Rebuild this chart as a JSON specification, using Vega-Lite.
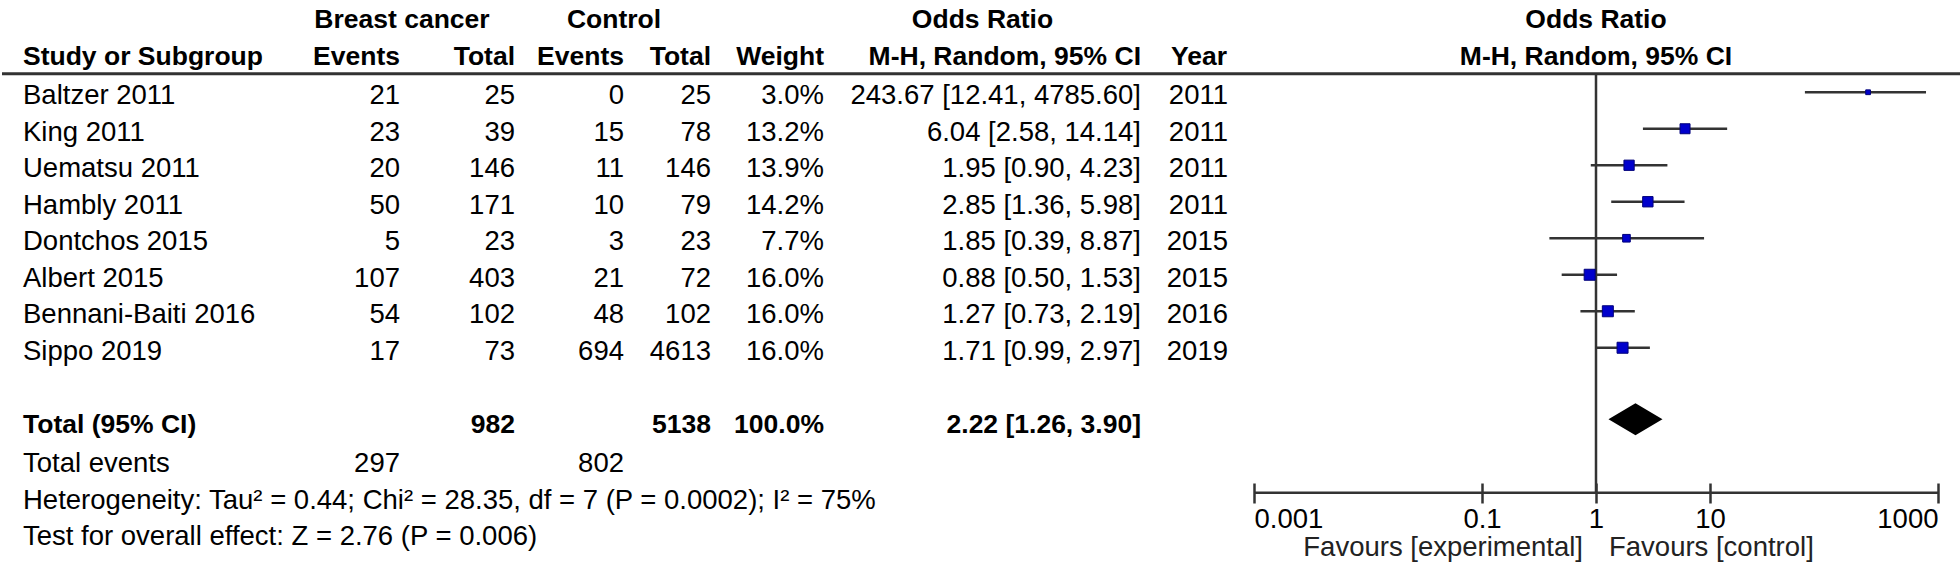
{
  "$schema": "https://vega.github.io/schema/vega-lite/v6.json",
  "padding": {"left": 0, "top": 5, "right": 0, "bottom": 0},
  "spacing": 0,
  "bounds": "flush",
  "background": "white",
  "config": {
    "view": {"stroke": null},
    "text": {"font": "Liberation Sans", "fontSize": 27.5, "color": "#000"},
    "concat": {"spacing": 0}
  },
  "datasets": {
    "studies": [
      {"row": "Baltzer 2011", "e1": 21, "n1": 25, "e2": 0, "n2": 25, "weight": 0.030, "ci": "243.67 [12.41, 4785.60]", "year": "2011", "or": 243.67, "lo": 68, "hi": 785},
      {"row": "King 2011", "e1": 23, "n1": 39, "e2": 15, "n2": 78, "weight": 0.132, "ci": "6.04 [2.58, 14.14]", "year": "2011", "or": 6.04, "lo": 2.58, "hi": 14.14},
      {"row": "Uematsu 2011", "e1": 20, "n1": 146, "e2": 11, "n2": 146, "weight": 0.139, "ci": "1.95 [0.90, 4.23]", "year": "2011", "or": 1.95, "lo": 0.90, "hi": 4.23},
      {"row": "Hambly 2011", "e1": 50, "n1": 171, "e2": 10, "n2": 79, "weight": 0.142, "ci": "2.85 [1.36, 5.98]", "year": "2011", "or": 2.85, "lo": 1.36, "hi": 5.98},
      {"row": "Dontchos 2015", "e1": 5, "n1": 23, "e2": 3, "n2": 23, "weight": 0.077, "ci": "1.85 [0.39, 8.87]", "year": "2015", "or": 1.85, "lo": 0.39, "hi": 8.87},
      {"row": "Albert 2015", "e1": 107, "n1": 403, "e2": 21, "n2": 72, "weight": 0.160, "ci": "0.88 [0.50, 1.53]", "year": "2015", "or": 0.88, "lo": 0.50, "hi": 1.53},
      {"row": "Bennani-Baiti 2016", "e1": 54, "n1": 102, "e2": 48, "n2": 102, "weight": 0.160, "ci": "1.27 [0.73, 2.19]", "year": "2016", "or": 1.27, "lo": 0.73, "hi": 2.19},
      {"row": "Sippo 2019", "e1": 17, "n1": 73, "e2": 694, "n2": 4613, "weight": 0.160, "ci": "1.71 [0.99, 2.97]", "year": "2019", "or": 1.71, "lo": 0.99, "hi": 2.97}
    ],
    "total": [
      {"row": "Total (95% CI)", "n1": 982, "n2": 5138, "weight": 1.0, "ci": "2.22 [1.26, 3.90]", "or": 2.22, "lo": 1.26, "hi": 3.90}
    ],
    "footer": [
      {"row": "Total events", "label": "Total events", "e1": 297, "e2": 802},
      {"row": "Heterogeneity", "label": "Heterogeneity: Tau² = 0.44; Chi² = 28.35, df = 7 (P = 0.0002); I² = 75%"},
      {"row": "Test for overall effect", "label": "Test for overall effect: Z = 2.76 (P = 0.006)"}
    ],
    "headers": [
      {"col": "study", "row": "h2", "label": "Study or Subgroup"},
      {"col": "e1", "row": "h1", "label": "Breast cancer"},
      {"col": "e1", "row": "h2", "label": "Events"},
      {"col": "n1", "row": "h2", "label": "Total"},
      {"col": "e2", "row": "h1", "label": "Control"},
      {"col": "e2", "row": "h2", "label": "Events"},
      {"col": "n2", "row": "h2", "label": "Total"},
      {"col": "w", "row": "h2", "label": "Weight"},
      {"col": "ci", "row": "h1", "label": "Odds Ratio"},
      {"col": "ci", "row": "h2", "label": "M-H, Random, 95% CI"},
      {"col": "year", "row": "h2", "label": "Year"},
      {"col": "forest", "row": "h1", "label": "Odds Ratio"},
      {"col": "forest", "row": "h2", "label": "M-H, Random, 95% CI"}
    ],
    "sep": [{"row": "h2"}],
    "vline": [{"row": "h2", "row2": "Heterogeneity", "x": 1}],
    "axisline": [{"row": "Heterogeneity", "from": 0.001, "to": 1000}],
    "favours": [
      {"row": "Test for overall effect", "side": "left", "label": "Favours [experimental]", "x": 1},
      {"row": "Test for overall effect", "side": "right", "label": "Favours [control]", "x": 1}
    ]
  },
  "hconcat": [
    {
      "width": 340, "height": {"step": 36.5},
      "encoding": {"y": {"field": "row", "type": "nominal", "axis": null, "scale": {"type": "point", "domain": ["h1","h2","Baltzer 2011","King 2011","Uematsu 2011","Hambly 2011","Dontchos 2015","Albert 2015","Bennani-Baiti 2016","Sippo 2019","gap","Total (95% CI)","Total events","Heterogeneity","Test for overall effect"]}}},
      "layer": [
        {"data": {"name": "headers"}, "transform": [{"filter": "datum.col == 'study'"}], "mark": {"type": "text", "align": "left", "dx": 21, "yOffset": -3, "fontWeight": "bold", "fontSize": 26.5}, "encoding": {"x": {"value": 0}, "text": {"field": "label"}}},
        {"data": {"name": "studies"}, "mark": {"type": "text", "align": "left", "dx": 21}, "encoding": {"x": {"value": 0}, "text": {"field": "row"}}},
        {"data": {"name": "total"}, "mark": {"type": "text", "align": "left", "dx": 21, "fontWeight": "bold", "fontSize": 26.5}, "encoding": {"x": {"value": 0}, "text": {"field": "row"}}},
        {"data": {"name": "footer"}, "mark": {"type": "text", "align": "left", "dx": 21, "yOffset": 3}, "encoding": {"x": {"value": 0}, "text": {"field": "label"}}},
        {"data": {"name": "sep"}, "mark": {"type": "rule", "yOffset": 14, "strokeWidth": 3, "color": "#333"}, "encoding": {}}
      ]
    },
    {
      "width": 58, "height": {"step": 36.5},
      "encoding": {"y": {"field": "row", "type": "nominal", "axis": null, "scale": {"type": "point", "domain": ["h1","h2","Baltzer 2011","King 2011","Uematsu 2011","Hambly 2011","Dontchos 2015","Albert 2015","Bennani-Baiti 2016","Sippo 2019","gap","Total (95% CI)","Total events","Heterogeneity","Test for overall effect"]}}},
      "layer": [
        {"data": {"name": "headers"}, "transform": [{"filter": "datum.col == 'e1' && datum.row == 'h2'"}], "mark": {"type": "text", "align": "right", "yOffset": -3, "fontWeight": "bold", "fontSize": 26.5}, "encoding": {"x": {"value": "width"}, "text": {"field": "label"}}},
        {"data": {"name": "headers"}, "transform": [{"filter": "datum.col == 'e1' && datum.row == 'h1'"}], "mark": {"type": "text", "align": "center", "dx": 2, "yOffset": -3, "fontWeight": "bold", "fontSize": 26.5}, "encoding": {"x": {"value": "width"}, "text": {"field": "label"}}},
        {"data": {"name": "studies"}, "mark": {"type": "text", "align": "right"}, "encoding": {"x": {"value": "width"}, "text": {"field": "e1", "type": "nominal"}}},
        {"data": {"name": "footer"}, "transform": [{"filter": "isValid(datum.e1)"}], "mark": {"type": "text", "align": "right", "yOffset": 3}, "encoding": {"x": {"value": "width"}, "text": {"field": "e1", "type": "nominal"}}},
        {"data": {"name": "sep"}, "mark": {"type": "rule", "yOffset": 14, "strokeWidth": 3, "color": "#333"}, "encoding": {}}
      ]
    },
    {
      "width": 115, "height": {"step": 36.5},
      "encoding": {"y": {"field": "row", "type": "nominal", "axis": null, "scale": {"type": "point", "domain": ["h1","h2","Baltzer 2011","King 2011","Uematsu 2011","Hambly 2011","Dontchos 2015","Albert 2015","Bennani-Baiti 2016","Sippo 2019","gap","Total (95% CI)","Total events","Heterogeneity","Test for overall effect"]}}},
      "layer": [
        {"data": {"name": "headers"}, "transform": [{"filter": "datum.col == 'n1'"}], "mark": {"type": "text", "align": "right", "yOffset": -3, "fontWeight": "bold", "fontSize": 26.5}, "encoding": {"x": {"value": "width"}, "text": {"field": "label"}}},
        {"data": {"name": "studies"}, "mark": {"type": "text", "align": "right"}, "encoding": {"x": {"value": "width"}, "text": {"field": "n1", "type": "nominal"}}},
        {"data": {"name": "total"}, "mark": {"type": "text", "align": "right", "fontWeight": "bold", "fontSize": 26.5}, "encoding": {"x": {"value": "width"}, "text": {"field": "n1", "type": "nominal"}}},
        {"data": {"name": "sep"}, "mark": {"type": "rule", "yOffset": 14, "strokeWidth": 3, "color": "#333"}, "encoding": {}}
      ]
    },
    {
      "width": 109, "height": {"step": 36.5},
      "encoding": {"y": {"field": "row", "type": "nominal", "axis": null, "scale": {"type": "point", "domain": ["h1","h2","Baltzer 2011","King 2011","Uematsu 2011","Hambly 2011","Dontchos 2015","Albert 2015","Bennani-Baiti 2016","Sippo 2019","gap","Total (95% CI)","Total events","Heterogeneity","Test for overall effect"]}}},
      "layer": [
        {"data": {"name": "headers"}, "transform": [{"filter": "datum.col == 'e2' && datum.row == 'h2'"}], "mark": {"type": "text", "align": "right", "yOffset": -3, "fontWeight": "bold", "fontSize": 26.5}, "encoding": {"x": {"value": "width"}, "text": {"field": "label"}}},
        {"data": {"name": "headers"}, "transform": [{"filter": "datum.col == 'e2' && datum.row == 'h1'"}], "mark": {"type": "text", "align": "center", "dx": -10, "yOffset": -3, "fontWeight": "bold", "fontSize": 26.5}, "encoding": {"x": {"value": "width"}, "text": {"field": "label"}}},
        {"data": {"name": "studies"}, "mark": {"type": "text", "align": "right"}, "encoding": {"x": {"value": "width"}, "text": {"field": "e2", "type": "nominal"}}},
        {"data": {"name": "footer"}, "transform": [{"filter": "isValid(datum.e2)"}], "mark": {"type": "text", "align": "right", "yOffset": 3}, "encoding": {"x": {"value": "width"}, "text": {"field": "e2", "type": "nominal"}}},
        {"data": {"name": "sep"}, "mark": {"type": "rule", "yOffset": 14, "strokeWidth": 3, "color": "#333"}, "encoding": {}}
      ]
    },
    {
      "width": 87, "height": {"step": 36.5},
      "encoding": {"y": {"field": "row", "type": "nominal", "axis": null, "scale": {"type": "point", "domain": ["h1","h2","Baltzer 2011","King 2011","Uematsu 2011","Hambly 2011","Dontchos 2015","Albert 2015","Bennani-Baiti 2016","Sippo 2019","gap","Total (95% CI)","Total events","Heterogeneity","Test for overall effect"]}}},
      "layer": [
        {"data": {"name": "headers"}, "transform": [{"filter": "datum.col == 'n2'"}], "mark": {"type": "text", "align": "right", "yOffset": -3, "fontWeight": "bold", "fontSize": 26.5}, "encoding": {"x": {"value": "width"}, "text": {"field": "label"}}},
        {"data": {"name": "studies"}, "mark": {"type": "text", "align": "right"}, "encoding": {"x": {"value": "width"}, "text": {"field": "n2", "type": "nominal"}}},
        {"data": {"name": "total"}, "mark": {"type": "text", "align": "right", "fontWeight": "bold", "fontSize": 26.5}, "encoding": {"x": {"value": "width"}, "text": {"field": "n2", "type": "nominal"}}},
        {"data": {"name": "sep"}, "mark": {"type": "rule", "yOffset": 14, "strokeWidth": 3, "color": "#333"}, "encoding": {}}
      ]
    },
    {
      "width": 113, "height": {"step": 36.5},
      "encoding": {"y": {"field": "row", "type": "nominal", "axis": null, "scale": {"type": "point", "domain": ["h1","h2","Baltzer 2011","King 2011","Uematsu 2011","Hambly 2011","Dontchos 2015","Albert 2015","Bennani-Baiti 2016","Sippo 2019","gap","Total (95% CI)","Total events","Heterogeneity","Test for overall effect"]}}},
      "layer": [
        {"data": {"name": "headers"}, "transform": [{"filter": "datum.col == 'w'"}], "mark": {"type": "text", "align": "right", "yOffset": -3, "fontWeight": "bold", "fontSize": 26.5}, "encoding": {"x": {"value": "width"}, "text": {"field": "label"}}},
        {"data": {"name": "studies"}, "mark": {"type": "text", "align": "right"}, "encoding": {"x": {"value": "width"}, "text": {"field": "weight", "type": "quantitative", "format": ".1%"}}},
        {"data": {"name": "total"}, "mark": {"type": "text", "align": "right", "fontWeight": "bold", "fontSize": 26.5}, "encoding": {"x": {"value": "width"}, "text": {"field": "weight", "type": "quantitative", "format": ".1%"}}},
        {"data": {"name": "sep"}, "mark": {"type": "rule", "yOffset": 14, "strokeWidth": 3, "color": "#333"}, "encoding": {}}
      ]
    },
    {
      "width": 317, "height": {"step": 36.5},
      "encoding": {"y": {"field": "row", "type": "nominal", "axis": null, "scale": {"type": "point", "domain": ["h1","h2","Baltzer 2011","King 2011","Uematsu 2011","Hambly 2011","Dontchos 2015","Albert 2015","Bennani-Baiti 2016","Sippo 2019","gap","Total (95% CI)","Total events","Heterogeneity","Test for overall effect"]}}},
      "layer": [
        {"data": {"name": "headers"}, "transform": [{"filter": "datum.col == 'ci' && datum.row == 'h2'"}], "mark": {"type": "text", "align": "right", "yOffset": -3, "fontWeight": "bold", "fontSize": 26.5}, "encoding": {"x": {"value": "width"}, "text": {"field": "label"}}},
        {"data": {"name": "headers"}, "transform": [{"filter": "datum.col == 'ci' && datum.row == 'h1'"}], "mark": {"type": "text", "align": "center", "yOffset": -3, "fontWeight": "bold", "fontSize": 26.5}, "encoding": {"text": {"field": "label"}}},
        {"data": {"name": "studies"}, "mark": {"type": "text", "align": "right"}, "encoding": {"x": {"value": "width"}, "text": {"field": "ci"}}},
        {"data": {"name": "total"}, "mark": {"type": "text", "align": "right", "fontWeight": "bold", "fontSize": 26.5}, "encoding": {"x": {"value": "width"}, "text": {"field": "ci"}}},
        {"data": {"name": "sep"}, "mark": {"type": "rule", "yOffset": 14, "strokeWidth": 3, "color": "#333"}, "encoding": {}}
      ]
    },
    {
      "width": 113, "height": {"step": 36.5},
      "encoding": {"y": {"field": "row", "type": "nominal", "axis": null, "scale": {"type": "point", "domain": ["h1","h2","Baltzer 2011","King 2011","Uematsu 2011","Hambly 2011","Dontchos 2015","Albert 2015","Bennani-Baiti 2016","Sippo 2019","gap","Total (95% CI)","Total events","Heterogeneity","Test for overall effect"]}}},
      "layer": [
        {"data": {"name": "headers"}, "transform": [{"filter": "datum.col == 'year'"}], "mark": {"type": "text", "align": "right", "dx": -27, "yOffset": -3, "fontWeight": "bold", "fontSize": 26.5}, "encoding": {"x": {"value": "width"}, "text": {"field": "label"}}},
        {"data": {"name": "studies"}, "mark": {"type": "text", "align": "right", "dx": -26}, "encoding": {"x": {"value": "width"}, "text": {"field": "year"}}},
        {"data": {"name": "sep"}, "mark": {"type": "rule", "yOffset": 14, "strokeWidth": 3, "color": "#333"}, "encoding": {}}
      ]
    },
    {
      "width": 684, "height": {"step": 36.5},
      "encoding": {"y": {"field": "row", "type": "nominal", "axis": null, "scale": {"type": "point", "domain": ["h1","h2","Baltzer 2011","King 2011","Uematsu 2011","Hambly 2011","Dontchos 2015","Albert 2015","Bennani-Baiti 2016","Sippo 2019","gap","Total (95% CI)","Total events","Heterogeneity","Test for overall effect"]}}},
      "layer": [
        {"data": {"name": "sep"}, "mark": {"type": "rule", "yOffset": 14, "strokeWidth": 3, "color": "#333"}, "encoding": {}},
        {"data": {"name": "headers"}, "transform": [{"filter": "datum.col == 'forest'"}], "mark": {"type": "text", "align": "center", "yOffset": -3, "fontWeight": "bold", "fontSize": 26.5}, "encoding": {"text": {"field": "label"}}},
        {"data": {"name": "vline"}, "mark": {"type": "rule", "yOffset": 14, "y2Offset": -5, "strokeWidth": 2.5, "color": "#333"}, "encoding": {"x": {"field": "x", "type": "quantitative", "title": null, "scale": {"type": "log", "domain": [0.001, 1000], "nice": false}}, "y2": {"field": "row2"}}},
        {"data": {"name": "axisline"}, "mark": {"type": "rule", "yOffset": -5, "strokeWidth": 2.5, "color": "#333"}, "encoding": {"x": {"field": "from", "type": "quantitative", "title": null, "scale": {"type": "log", "domain": [0.001, 1000], "nice": false}}, "x2": {"field": "to"}}},
        {"data": {"name": "studies"}, "mark": {"type": "rule", "yOffset": -4, "strokeWidth": 2.5, "color": "#333"}, "encoding": {"x": {"field": "lo", "type": "quantitative", "title": null, "scale": {"type": "log", "domain": [0.001, 1000], "nice": false}, "axis": {"values": [0.001, 0.1, 1, 10, 1000], "labelExpr": "'' + datum.value", "domain": false, "grid": false, "tickSize": 20, "tickWidth": 2.5, "tickColor": "#333", "offset": -69.5, "labelPadding": 2, "labelFlush": true, "labelOverlap": false, "labelFont": "Liberation Sans", "labelFontSize": 27.5, "labelColor": "#000"}}, "x2": {"field": "hi"}}},
        {"data": {"name": "studies"}, "mark": {"type": "square", "filled": true, "opacity": 1, "color": "#0000CC", "stroke": "#00007A", "strokeWidth": 1, "yOffset": -4}, "encoding": {"x": {"field": "or", "type": "quantitative", "title": null, "scale": {"type": "log", "domain": [0.001, 1000], "nice": false}}, "size": {"field": "weight", "type": "quantitative", "legend": null, "scale": {"domain": [0, 0.16], "range": [0, 121]}}}},
        {"data": {"name": "total"}, "mark": {"type": "point", "shape": "M-1,0L0,-0.59L1,0L0,0.59Z", "filled": true, "opacity": 1, "color": "#000", "size": 2916, "yOffset": -5.5}, "encoding": {"x": {"field": "or", "type": "quantitative", "title": null, "scale": {"type": "log", "domain": [0.001, 1000], "nice": false}}}},
        {"data": {"name": "favours"}, "transform": [{"filter": "datum.side == 'left'"}], "mark": {"type": "text", "align": "right", "dx": -13, "yOffset": 14, "color": "#222"}, "encoding": {"x": {"field": "x", "type": "quantitative", "title": null, "scale": {"type": "log", "domain": [0.001, 1000], "nice": false}}, "text": {"field": "label"}}},
        {"data": {"name": "favours"}, "transform": [{"filter": "datum.side == 'right'"}], "mark": {"type": "text", "align": "left", "dx": 13, "yOffset": 14, "color": "#222"}, "encoding": {"x": {"field": "x", "type": "quantitative", "title": null, "scale": {"type": "log", "domain": [0.001, 1000], "nice": false}}, "text": {"field": "label"}}}
      ]
    },
    {
      "width": 24, "height": {"step": 36.5},
      "encoding": {"y": {"field": "row", "type": "nominal", "axis": null, "scale": {"type": "point", "domain": ["h1","h2","Baltzer 2011","King 2011","Uematsu 2011","Hambly 2011","Dontchos 2015","Albert 2015","Bennani-Baiti 2016","Sippo 2019","gap","Total (95% CI)","Total events","Heterogeneity","Test for overall effect"]}}},
      "layer": [
        {"data": {"name": "sep"}, "mark": {"type": "rule", "yOffset": 14, "strokeWidth": 3, "color": "#333"}, "encoding": {}}
      ]
    }
  ]
}
